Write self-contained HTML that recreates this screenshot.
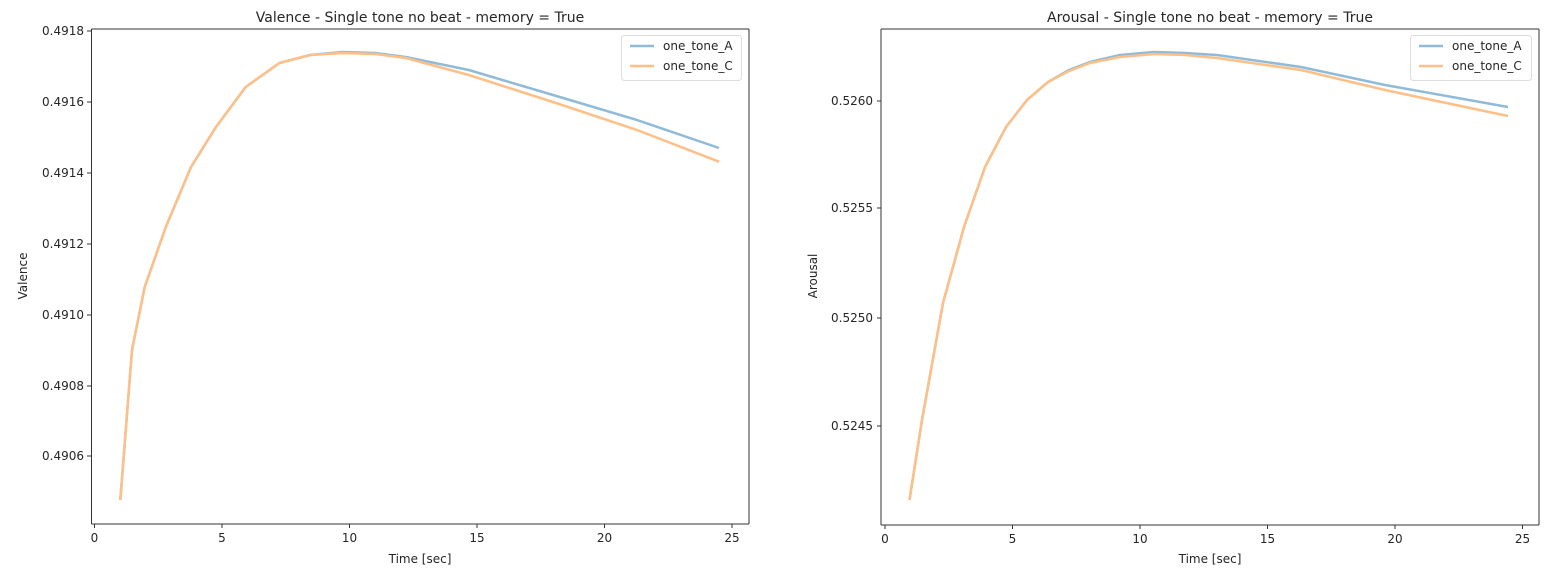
<!DOCTYPE html>
<html><head><meta charset="utf-8"><style>
html,body{margin:0;padding:0;background:#fff;}
svg{display:block;font-family:"DejaVu Sans","Liberation Sans",sans-serif;}
</style></head><body>
<svg width="1561" height="577" viewBox="0 0 1561 577" xmlns="http://www.w3.org/2000/svg">
<rect width="1561" height="577" fill="#fff"/>
<g font-size="12" fill="#262626">
<!-- LEFT -->
<text x="420" y="22" text-anchor="middle" font-size="14">Valence - Single tone no beat - memory = True</text>
<g stroke="#333" stroke-width="1">
<line x1="91.5" y1="29" x2="91.5" y2="524"/>
<line x1="749" y1="29" x2="749" y2="524"/>
<line x1="91.5" y1="29" x2="749" y2="29"/>
<line x1="91.5" y1="524" x2="749" y2="524"/>
<line x1="87" y1="31" x2="91.5" y2="31"/>
<line x1="87" y1="102" x2="91.5" y2="102"/>
<line x1="87" y1="173" x2="91.5" y2="173"/>
<line x1="87" y1="244" x2="91.5" y2="244"/>
<line x1="87" y1="315" x2="91.5" y2="315"/>
<line x1="87" y1="386" x2="91.5" y2="386"/>
<line x1="87" y1="456" x2="91.5" y2="456"/>
<line x1="94.5" y1="524" x2="94.5" y2="528"/>
<line x1="222" y1="524" x2="222" y2="528"/>
<line x1="349.5" y1="524" x2="349.5" y2="528"/>
<line x1="477" y1="524" x2="477" y2="528"/>
<line x1="604.5" y1="524" x2="604.5" y2="528"/>
<line x1="732" y1="524" x2="732" y2="528"/>
</g>
<g text-anchor="end">
<text x="84" y="35">0.4918</text><text x="84" y="106">0.4916</text><text x="84" y="177">0.4914</text>
<text x="84" y="248">0.4912</text><text x="84" y="319">0.4910</text><text x="84" y="390">0.4908</text><text x="84" y="460">0.4906</text>
</g>
<g text-anchor="middle">
<text x="94.5" y="542">0</text><text x="222" y="542">5</text><text x="349.5" y="542">10</text>
<text x="477" y="542">15</text><text x="604.5" y="542">20</text><text x="732" y="542">25</text>
<text x="420" y="563">Time [sec]</text>
</g>
<text transform="translate(27,276) rotate(-90)" text-anchor="middle">Valence</text>
<polyline fill="none" stroke="#8fbbd9" stroke-width="2.5" stroke-linejoin="round" points="120.3,500 132,350 144.7,287 165.8,227 191,167 216,127 245.7,87 279.4,63 310,55 342.5,52 375,53 405.7,57 468.8,70 553,95 637,120 719,148"/>
<polyline fill="none" stroke="#ffbf86" stroke-width="2.5" stroke-linejoin="round" points="120.3,500 132,350 144.7,287 165.8,227 191,167 216,127 245.7,87 279.4,63 310,55 342.5,53 375,54 405.7,58 468.8,75 553,102 637,130 719,161.7"/>
<rect x="621.5" y="35.5" width="120" height="45" rx="3" fill="#fff" fill-opacity="0.8" stroke="#ddd"/>
<line x1="630" y1="46" x2="654" y2="46" stroke="#8fbbd9" stroke-width="2.5"/>
<line x1="630" y1="66" x2="654" y2="66" stroke="#ffbf86" stroke-width="2.5"/>
<text x="663" y="50">one_tone_A</text><text x="663" y="70">one_tone_C</text>

<!-- RIGHT -->
<text x="1210" y="22" text-anchor="middle" font-size="14">Arousal - Single tone no beat - memory = True</text>
<g stroke="#333" stroke-width="1">
<line x1="881" y1="29" x2="881" y2="525"/>
<line x1="1539" y1="29" x2="1539" y2="525"/>
<line x1="881" y1="29" x2="1539" y2="29"/>
<line x1="881" y1="525" x2="1539" y2="525"/>
<line x1="877" y1="101" x2="881" y2="101"/>
<line x1="877" y1="208" x2="881" y2="208"/>
<line x1="877" y1="318" x2="881" y2="318"/>
<line x1="877" y1="426" x2="881" y2="426"/>
<line x1="885" y1="525" x2="885" y2="529"/>
<line x1="1012.5" y1="525" x2="1012.5" y2="529"/>
<line x1="1140" y1="525" x2="1140" y2="529"/>
<line x1="1267.5" y1="525" x2="1267.5" y2="529"/>
<line x1="1395" y1="525" x2="1395" y2="529"/>
<line x1="1522.5" y1="525" x2="1522.5" y2="529"/>
</g>
<g text-anchor="end">
<text x="873" y="105">0.5260</text><text x="873" y="212">0.5255</text><text x="873" y="322">0.5250</text><text x="873" y="430">0.5245</text>
</g>
<g text-anchor="middle">
<text x="885" y="543">0</text><text x="1012.5" y="543">5</text><text x="1140" y="543">10</text>
<text x="1267.5" y="543">15</text><text x="1395" y="543">20</text><text x="1522.5" y="543">25</text>
<text x="1210" y="563">Time [sec]</text>
</g>
<text transform="translate(817,276) rotate(-90)" text-anchor="middle">Arousal</text>
<polyline fill="none" stroke="#8fbbd9" stroke-width="2.5" stroke-linejoin="round" points="909.5,500 922,420 943,303 964,227 985,167 1006,127 1027,100 1048,82 1069,70 1090,62 1120,55 1153.6,52 1185,53 1217,55 1301,67 1385,85 1508,107"/>
<polyline fill="none" stroke="#ffbf86" stroke-width="2.5" stroke-linejoin="round" points="909.5,500 922,420 943,303 964,227 985,167 1006,127 1027,100 1048,82 1069,71 1090,63 1120,57 1153.6,54 1185,55 1217,58 1301,70 1385,90 1508,116"/>
<rect x="1410.5" y="35.5" width="121" height="45" rx="3" fill="#fff" fill-opacity="0.8" stroke="#ddd"/>
<line x1="1419" y1="46" x2="1443" y2="46" stroke="#8fbbd9" stroke-width="2.5"/>
<line x1="1419" y1="66" x2="1443" y2="66" stroke="#ffbf86" stroke-width="2.5"/>
<text x="1452" y="50">one_tone_A</text><text x="1452" y="70">one_tone_C</text>
</g>
</svg>
</body></html>
